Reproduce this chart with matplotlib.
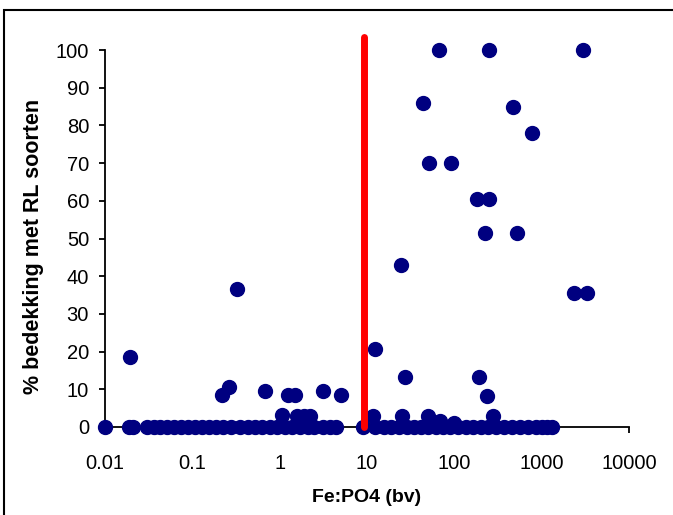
import matplotlib
matplotlib.use("Agg")
import matplotlib.pyplot as plt
from matplotlib.patches import Rectangle

plt.rcParams['font.family'] = ['Liberation Sans', 'DejaVu Sans']

# Points with non-zero cover
x_pos = [67, 250, 2990, 44, 472, 778, 51, 92, 182, 250, 225, 524, 24.5, 0.325,
         2355, 3320, 12.4, 0.0193, 27.3, 192, 0.263, 0.219, 0.68, 1.25, 1.5,
         3.14, 5.05, 238, 1.07, 1.58, 1.9, 2.23, 11.7, 25, 50, 69, 278, 100]
y_pos = [100, 100, 100, 86, 85, 78, 70, 70, 60.5, 60.5, 51.5, 51.5, 43, 36.6,
         35.5, 35.5, 20.7, 18.6, 13.3, 13.3, 10.6, 8.5, 9.5, 8.5, 8.5,
         9.5, 8.5, 8.2, 3.2, 3, 3, 3, 3, 3, 3, 1.5, 3, 1]

# Points with zero cover
x_zero = [0.01, 0.019, 0.021, 0.03, 0.036, 0.043, 0.051, 0.062, 0.074, 0.09,
          0.108, 0.13, 0.156, 0.188, 0.226, 0.28, 0.35, 0.43, 0.52, 0.63,
          0.77, 0.93, 1.15, 1.4, 1.7, 2.1, 2.5, 3.1, 3.8, 4.4, 9.0, 12.5,
          15.5, 19, 23.5, 28.5, 34.5, 42, 50, 61, 74, 90, 110, 135, 165, 200,
          245, 300, 370, 455, 560, 690, 850, 1000, 1150, 1300]
y_zero = [0] * len(x_zero)

# Threshold line
x_line = [9.3, 9.3]
y_line = [0, 103.5]

x_ticks = [0.01, 0.1, 1, 10, 100, 1000, 10000]
x_ticklabels = ['0.01', '0.1', '1', '10', '100', '1000', '10000']
y_ticks = list(range(0, 101, 10))

fig = plt.figure(figsize=(6.73, 5.15), dpi=100)
ax = fig.add_axes([105/673, 1-427/515, (629-105)/673, (427-50)/515])

navy = '#000080'
ax.plot(x_zero, y_zero, 'o', color=navy, markersize=10, clip_on=False, zorder=3)
ax.plot(x_pos, y_pos, 'o', color=navy, markersize=10, clip_on=False, zorder=3)
ax.plot(x_line, y_line, color='#ff0000', linewidth=5, clip_on=False, zorder=4,
        solid_capstyle='round')

ax.set_xscale('log')
ax.set_xlim(0.01, 10000)
ax.set_ylim(0, 100)
ax.set_xticks(x_ticks)
ax.set_xticklabels(x_ticklabels)
ax.minorticks_off()
ax.set_yticks(y_ticks)
ax.spines['top'].set_visible(False)
ax.spines['right'].set_visible(False)
for s in ['left', 'bottom']:
    ax.spines[s].set_linewidth(1.3)
ax.tick_params(axis='y', direction='out', length=4.5, width=1.3, pad=7, labelsize=14.5)
ax.tick_params(axis='x', direction='out', length=4.5, width=1.3, pad=15, labelsize=14.5)

fig.text(367/673, 1-497/515, 'Fe:PO4 (bv)', ha='center', va='center',
         fontsize=14, fontweight='bold')
fig.text(34/673, 1-246/515, '% bedekking met RL soorten', ha='center', va='center',
         rotation=90, fontsize=15.5, fontweight='bold')

fig.patches.append(Rectangle((4/673, -0.1), 1.2, 1-10/515+0.1, transform=fig.transFigure,
                             fill=False, edgecolor='black', linewidth=1.5))

fig.savefig('out.png', dpi=100)
